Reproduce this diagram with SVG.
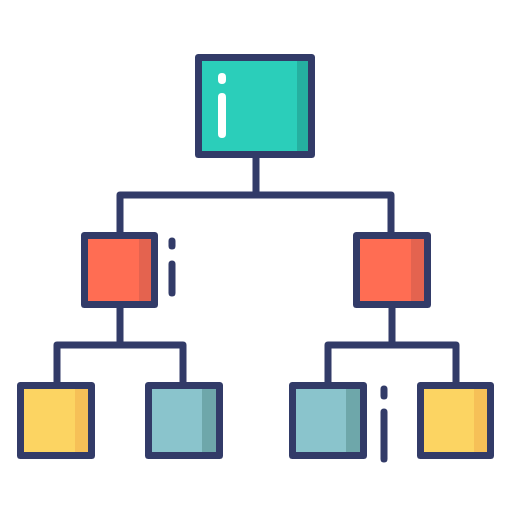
<svg xmlns="http://www.w3.org/2000/svg" width="512" height="512" viewBox="0 0 512 512">
<style>
.box{stroke:#323b68;stroke-width:7;stroke-linejoin:round}
.line{fill:none;stroke:#323b68;stroke-width:7;stroke-linejoin:round;stroke-linecap:round}
.mark{fill:none;stroke:#323b68;stroke-width:7;stroke-linecap:round}
.white{fill:none;stroke:#ffffff;stroke-width:8;stroke-linecap:round}
</style>
<rect width="512" height="512" fill="#ffffff"/>
<g id="connectors">
<path class="line" d="M256 158 V195 M120 232 V195 H391 V232"/>
<path class="line" d="M120 308 V345 M57 382 V345 H183 V382"/>
<path class="line" d="M392 308 V345 M328 382 V345 H456 V382"/>
</g>
<g id="root">
<rect x="198.5" y="57.5" width="113" height="97" fill="#2bceba"/>
<rect x="297" y="57.5" width="14.5" height="97" fill="#25b0a0"/>
<rect class="box" x="198.5" y="57.5" width="113" height="97" fill="none"/>
<path class="white" d="M222 77 V80 M222 97 V134"/>
</g>
<g id="mid-left">
<rect x="84.5" y="235.5" width="70" height="69" fill="#ff6d53"/>
<rect x="139" y="235.5" width="15.5" height="69" fill="#e4634f"/>
<rect class="box" x="84.5" y="235.5" width="70" height="69" fill="none"/>
<path class="mark" d="M172 241 V246 M172 264 V293"/>
</g>
<g id="mid-right">
<rect x="356.5" y="235.5" width="71" height="69" fill="#ff6d53"/>
<rect x="411" y="235.5" width="16.5" height="69" fill="#e4634f"/>
<rect class="box" x="356.5" y="235.5" width="71" height="69" fill="none"/>
</g>
<g id="leaf-1">
<rect x="20.5" y="385.5" width="71" height="70" fill="#fcd462"/>
<rect x="75" y="385.5" width="16.5" height="70" fill="#f6c057"/>
<rect class="box" x="20.5" y="385.5" width="71" height="70" fill="none"/>
</g>
<g id="leaf-2">
<rect x="148.5" y="385.5" width="71" height="70" fill="#8ac4cc"/>
<rect x="202" y="385.5" width="17.5" height="70" fill="#6ea7aa"/>
<rect class="box" x="148.5" y="385.5" width="71" height="70" fill="none"/>
</g>
<g id="leaf-3">
<rect x="292.5" y="385.5" width="71" height="70" fill="#8ac4cc"/>
<rect x="346" y="385.5" width="17.5" height="70" fill="#6ea7aa"/>
<rect class="box" x="292.5" y="385.5" width="71" height="70" fill="none"/>
<path class="mark" d="M384 389 V396 M384 412 V459"/>
</g>
<g id="leaf-4">
<rect x="420.5" y="385.5" width="70" height="70" fill="#fcd462"/>
<rect x="474" y="385.5" width="16.5" height="70" fill="#f6c057"/>
<rect class="box" x="420.5" y="385.5" width="70" height="70" fill="none"/>
</g>
</svg>
